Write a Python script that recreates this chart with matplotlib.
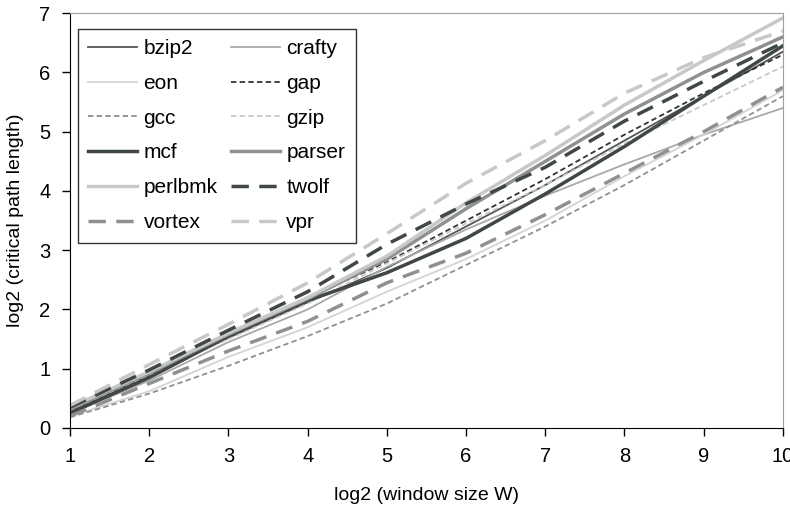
import matplotlib
matplotlib.use("Agg")
import matplotlib.pyplot as plt

plt.rcParams['font.family'] = ['Liberation Sans', 'DejaVu Sans']

# window size exponents
log_w = [1, 2, 3, 4, 5, 6, 7, 8, 9, 10]

# log2 critical path length per benchmark
bzip2   = [0.28, 0.88, 1.52, 2.12, 2.70, 3.40, 4.10, 4.85, 5.60, 6.35]
crafty  = [0.25, 0.80, 1.45, 2.00, 2.72, 3.35, 3.92, 4.45, 4.95, 5.40]
eon     = [0.20, 0.62, 1.20, 1.70, 2.30, 2.85, 3.50, 4.25, 4.95, 5.70]
gap     = [0.30, 0.92, 1.58, 2.20, 2.80, 3.50, 4.20, 4.95, 5.65, 6.30]
gcc     = [0.18, 0.58, 1.05, 1.55, 2.10, 2.75, 3.40, 4.10, 4.85, 5.60]
gzip    = [0.30, 0.90, 1.50, 2.10, 2.78, 3.45, 4.10, 4.80, 5.45, 6.10]
mcf     = [0.25, 0.85, 1.55, 2.15, 2.62, 3.20, 3.95, 4.75, 5.60, 6.45]
parser  = [0.32, 0.93, 1.58, 2.18, 2.85, 3.70, 4.50, 5.30, 6.00, 6.60]
perlbmk = [0.35, 0.95, 1.60, 2.20, 2.90, 3.80, 4.60, 5.45, 6.20, 6.92]
twolf   = [0.35, 0.98, 1.65, 2.30, 3.10, 3.78, 4.40, 5.18, 5.85, 6.50]
vortex  = [0.20, 0.75, 1.30, 1.80, 2.45, 2.95, 3.60, 4.30, 5.00, 5.75]
vpr     = [0.38, 1.07, 1.75, 2.45, 3.28, 4.13, 4.85, 5.65, 6.25, 6.70]

names = ['bzip2', 'crafty', 'eon', 'gap', 'gcc', 'gzip',
         'mcf', 'parser', 'perlbmk', 'twolf', 'vortex', 'vpr']
series = [bzip2, crafty, eon, gap, gcc, gzip,
          mcf, parser, perlbmk, twolf, vortex, vpr]

dark = '#3f4747'
mid = '#909090'
light = '#c8c8c8'
# colour, width, dash pattern
styles = {
    'bzip2':   ('#555555', 1.3, None),
    'crafty':  ('#a8a8a8', 1.3, None),
    'eon':     ('#d4d4d4', 1.3, None),
    'gap':     ('#2f3535', 1.3, (3, 1.8)),
    'gcc':     (mid, 1.3, (3, 1.8)),
    'gzip':    (light, 1.3, (3, 1.8)),
    'mcf':     (dark, 2.5, None),
    'parser':  (mid, 2.5, None),
    'perlbmk': (light, 2.5, None),
    'twolf':   (dark, 2.5, (5, 3)),
    'vortex':  (mid, 2.5, (5, 3)),
    'vpr':     (light, 2.5, (5, 3)),
}

fig = plt.figure(figsize=(7.9, 5.08), dpi=100)
ax = fig.add_axes([0.0886, 0.1575, 0.9024, 0.8165])

handles = []
for name, vals in zip(names, series):
    c, lw, dash = styles[name]
    line, = ax.plot(log_w, vals, color=c, lw=lw, label=name)
    if dash is not None:
        line.set_dashes(dash)
    handles.append(line)

ax.set_xlim(1, 10)
ax.set_ylim(0, 7)
ax.set_xticks(range(1, 11))
ax.set_yticks(range(0, 8))
ax.tick_params(axis='both', direction='out', length=6, width=1, pad=8,
               labelsize=14.5)
for s in ['top', 'right']:
    ax.spines[s].set_color('#a0a0a0')
for s in ['left', 'bottom']:
    ax.spines[s].set_color('black')

ax.set_xlabel('log2 (window size W)', fontsize=14, labelpad=15)
ax.set_ylabel('log2 (critical path length)', fontsize=14, labelpad=11)

# legend fills row by row in the reference
order = list(range(0, 12, 2)) + list(range(1, 12, 2))
leg = ax.legend([handles[i] for i in order], [names[i] for i in order],
                ncol=2, loc='upper left', bbox_to_anchor=(0.011, 0.963),
                borderaxespad=0, fontsize=15, handlelength=2.35,
                handletextpad=0.3, columnspacing=0.65, labelspacing=0.76,
                fancybox=False, framealpha=1, edgecolor='#333333',
                borderpad=0.5)
leg.get_frame().set_linewidth(1.0)

fig.savefig('out.png', dpi=100)
